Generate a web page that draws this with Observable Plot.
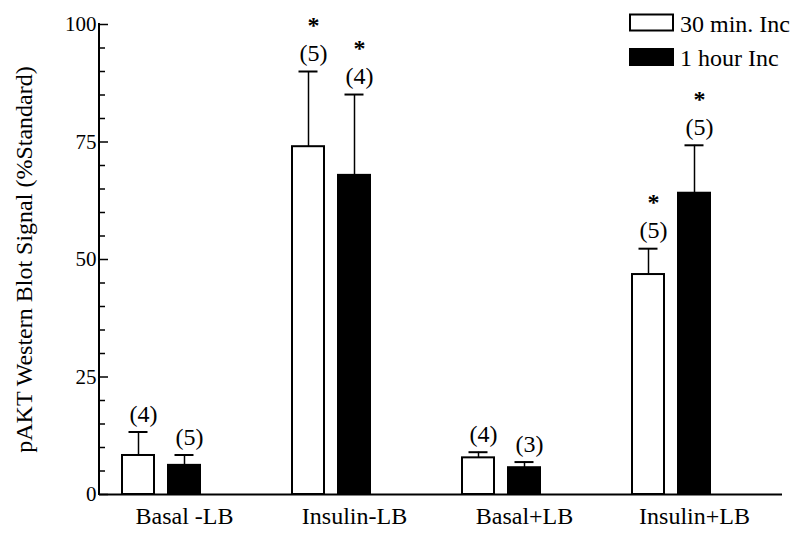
<!DOCTYPE html>
<html><head><meta charset="utf-8">
<script src="https://cdn.jsdelivr.net/npm/d3@7"></script>
<script src="https://cdn.jsdelivr.net/npm/@observablehq/plot@0.6"></script>
<style>
body{margin:0;background:#fff}
#chart{width:800px;height:536px}
#chart svg, #chart svg text{font-family:"Liberation Serif","Times New Roman",Times,serif !important;}
</style>
</head><body><div id="chart"></div>
<script>
const groups = ["Basal -LB", "Insulin-LB", "Basal+LB", "Insulin+LB"];
const seriesNames = ["30 min. Inc", "1 hour Inc"];
const mean30 = [8.3, 74.0, 7.8, 46.8];
const err30 = [5.0, 16.0, 1.2, 5.5];
const n30 = [4, 5, 4, 5];
const sig30 = [false, true, false, true];
const mean60 = [6.2, 67.9, 5.7, 64.1];
const err60 = [2.2, 17.2, 1.2, 10.2];
const n60 = [5, 4, 3, 5];
const sig60 = [false, true, false, true];
const majorTicks = [0, 25, 50, 75, 100];
const minorTicks = [5, 10, 15, 20, 30, 35, 40, 45, 55, 60, 65, 70, 80, 85, 90, 95];
const yLabel = "pAKT Western Blot Signal (%Standard)";

const rows30 = groups.map((g, i) => ({group: g, value: mean30[i], upper: mean30[i] + err30[i], n: n30[i], sig: sig30[i]}));
const rows60 = groups.map((g, i) => ({group: g, value: mean60[i], upper: mean60[i] + err60[i], n: n60[i], sig: sig60[i]}));

function yAxisLine(index, scales, values, dims) {
  return d3.create("svg:line")
    .attr("x1", dims.marginLeft).attr("x2", dims.marginLeft)
    .attr("y1", dims.height - dims.marginBottom + 1).attr("y2", dims.marginTop - 1)
    .attr("stroke", "black").attr("stroke-width", 2).node();
}
function legend(index, scales, values, dims) {
  const g = d3.create("svg:g").attr("font-size", 24).attr("text-anchor", "start");
  const x0 = dims.width - 170;
  [[14.5, "white"], [49, "black"]].forEach(([yy, f], i) => {
    g.append("rect").attr("x", x0).attr("y", yy).attr("width", 43).attr("height", 16)
      .attr("fill", f).attr("stroke", "black").attr("stroke-width", 2);
    g.append("text").attr("x", x0 + 50).attr("y", yy + 17).attr("fill", "black").text(seriesNames[i]);
  });
  return g.node();
}

const chart = Plot.plot({
  width: 800, height: 536,
  marginLeft: 99, marginRight: 18, marginTop: 24, marginBottom: 42,
  style: {background: "#fff", color: "#000"},
  x: {type: "band", domain: groups, range: [30, 802], paddingInner: 0.541, paddingOuter: 0.541},
  y: {domain: [0, 100]},
  marks: [
    Plot.axisX({tickSize: 0, tickPadding: 12, dx: 23, fontSize: 24, label: null}),
    Plot.axisY({ticks: majorTicks, tickSize: 0, tickPadding: 3, fontSize: 21, label: null}),
    Plot.axisY({ticks: minorTicks, tickSize: -6, strokeWidth: 1.5, tickFormat: () => "", label: null}),
    Plot.axisY({ticks: majorTicks, tickSize: -9, strokeWidth: 1.5, tickFormat: () => "", label: null}),
    Plot.text([yLabel], {frameAnchor: "left", rotate: -90, dx: -75, fontSize: 24, textAnchor: "middle", text: d => d}),
    Plot.ruleX(rows30, {x: "group", y1: "value", y2: "upper", dx: -23, stroke: "black", strokeWidth: 1.5}),
    Plot.ruleX(rows60, {x: "group", y1: "value", y2: "upper", dx: 23, stroke: "black", strokeWidth: 1.5}),
    Plot.tickY(rows30, {x: "group", y: "upper", insetLeft: 6.5, insetRight: 52.5, stroke: "black", strokeWidth: 2}),
    Plot.tickY(rows60, {x: "group", y: "upper", insetLeft: 52.5, insetRight: 6.5, stroke: "black", strokeWidth: 2}),
    Plot.barY(rows30, {x: "group", y: "value", fill: "white", stroke: "black", strokeWidth: 2, insetRight: 46}),
    Plot.barY(rows60, {x: "group", y: "value", fill: "black", stroke: "black", strokeWidth: 2, insetLeft: 46}),
    Plot.ruleY([0], {stroke: "black", strokeWidth: 2}),
    yAxisLine,
    Plot.text(rows30, {x: "group", y: "upper", text: d => `(${d.n})`, dx: -18, dy: -18, fontSize: 24}),
    Plot.text(rows60, {x: "group", y: "upper", text: d => `(${d.n})`, dx: 28, dy: -18, fontSize: 24}),
    Plot.text(rows30.filter(d => d.sig), {x: "group", y: "upper", text: () => "*", dx: -18, dy: -46, fontSize: 24, fontWeight: "bold"}),
    Plot.text(rows60.filter(d => d.sig), {x: "group", y: "upper", text: () => "*", dx: 28, dy: -46, fontSize: 24, fontWeight: "bold"}),
    legend
  ]
});
document.getElementById("chart").append(chart);
</script>
</body></html>
